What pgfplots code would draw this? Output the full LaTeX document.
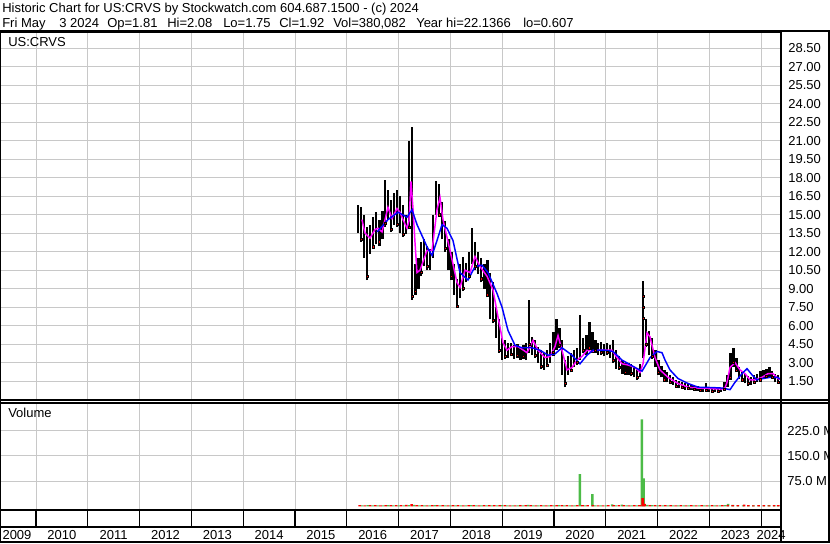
\documentclass[border=0pt]{standalone}
\usepackage{pgfplots}
\pgfplotsset{compat=1.18}
\usepackage{pgfplotstable}
\usepackage{fontspec}
\setmainfont{Liberation Sans}
\definecolor{gridc}{RGB}{200,200,200}
\definecolor{volgreen}{RGB}{76,187,71}
\definecolor{magline}{RGB}{255,0,255}
\newcommand{\chartfont}{\fontsize{9.75}{11}\selectfont}

\pgfplotstableread{
x lo hi
2016.216 13.5 15.8
2016.274 12.8 15.6
2016.332 11.5 15.0
2016.390 9.7 14.0
2016.448 11.8 14.2
2016.506 12.2 14.8
2016.564 12.6 15.2
2016.622 12.5 14.6
2016.680 13.0 15.3
2016.737 14.0 17.8
2016.795 14.6 17.0
2016.853 13.6 16.2
2016.911 14.2 16.8
2016.969 14.0 17.0
2017.027 13.5 16.5
2017.085 13.2 15.8
2017.143 13.4 15.0
2017.201 13.8 21.0
2017.259 8.1 22.1
2017.317 8.5 11.0
2017.375 9.0 11.5
2017.432 10.0 12.8
2017.490 10.8 13.0
2017.548 10.5 12.5
2017.606 10.5 12.2
2017.664 11.5 15.0
2017.722 15.0 17.7
2017.780 14.8 17.5
2017.838 13.0 16.0
2017.896 12.0 14.5
2017.954 10.5 13.0
2018.012 9.7 12.0
2018.069 8.5 11.0
2018.127 7.4 9.8
2018.185 8.2 11.0
2018.243 8.8 11.6
2018.301 9.5 11.1
2018.359 9.8 12.0
2018.417 11.0 13.9
2018.475 10.5 12.8
2018.533 10.2 12.0
2018.591 9.5 11.5
2018.649 9.0 11.0
2018.707 8.3 11.3
2018.764 6.5 10.3
2018.822 6.2 9.5
2018.880 5.0 7.5
2018.938 3.8 6.5
2018.996 3.2 5.0
2019.054 3.3 4.8
2019.112 3.4 4.6
2019.170 3.5 4.6
2019.228 3.3 4.4
2019.286 3.4 4.5
2019.344 3.2 4.3
2019.402 3.3 4.4
2019.459 3.2 4.6
2019.517 3.8 8.1
2019.575 3.6 5.1
2019.633 3.4 4.8
2019.691 3.0 4.3
2019.749 2.5 4.0
2019.807 2.4 3.8
2019.865 2.6 4.0
2019.923 3.0 4.6
2019.981 3.5 5.5
2020.039 4.0 6.5
2020.097 4.2 5.8
2020.154 2.0 4.8
2020.212 1.0 3.2
2020.270 2.0 3.5
2020.328 2.2 3.8
2020.386 2.6 4.0
2020.444 2.8 4.2
2020.502 3.2 6.9
2020.560 3.8 5.0
2020.618 3.6 5.2
2020.676 4.0 6.3
2020.734 3.8 5.5
2020.792 3.8 4.8
2020.849 3.6 4.6
2020.907 3.6 4.7
2020.965 3.5 4.5
2021.023 3.6 4.6
2021.081 3.4 4.4
2021.139 3.0 4.8
2021.197 2.5 4.0
2021.255 2.4 3.5
2021.313 2.1 3.2
2021.371 2.0 3.0
2021.429 2.0 3.0
2021.486 1.9 2.9
2021.544 1.8 2.6
2021.602 1.6 2.5
2021.660 1.8 2.9
2021.718 3.4 9.6
2021.776 4.3 6.5
2021.834 3.6 5.6
2021.892 3.3 5.0
2021.950 2.6 4.0
2022.008 2.0 3.2
2022.066 1.8 2.7
2022.124 1.5 2.4
2022.181 1.4 2.2
2022.239 1.3 2.0
2022.297 1.2 1.8
2022.355 1.0 1.6
2022.413 0.9 1.5
2022.471 0.9 1.4
2022.529 0.8 1.3
2022.587 0.8 1.3
2022.645 0.75 1.2
2022.703 0.7 1.1
2022.761 0.7 1.1
2022.819 0.7 1.0
2022.876 0.65 1.0
2022.934 0.7 1.3
2022.992 0.65 1.0
2023.050 0.6 0.95
2023.108 0.6 0.95
2023.166 0.6 0.9
2023.224 0.61 0.95
2023.282 0.7 1.4
2023.340 1.0 2.0
2023.398 1.6 3.8
2023.456 2.6 4.2
2023.514 2.2 3.4
2023.571 1.7 2.6
2023.629 1.5 2.3
2023.687 1.3 2.1
2023.745 1.1 1.9
2023.803 1.2 1.8
2023.861 1.3 2.0
2023.919 1.4 2.1
2023.977 1.5 2.3
2024.035 1.7 2.4
2024.093 1.8 2.5
2024.151 1.8 2.6
2024.208 1.7 2.3
2024.266 1.4 2.1
2024.324 1.3 2.0
}\pricebars

\begin{document}
\begin{tikzpicture}
\path[use as bounding box] (0,0) rectangle (622.5pt,407.25pt);

% ---------------- price panel ----------------
\begin{axis}[
  at={(0pt,107.25pt)}, anchor=south west, scale only axis,
  width=585.75pt, height=276pt,
  xmin=2009.305, xmax=2024.382, ymin=-0.04, ymax=29.83,
  xtick={2010,2011,2012,2013,2014,2015,2016,2017,2018,2019,2020,2021,2022,2023,2024},
  xticklabels={},
  ytick={1.5,3,4.5,6,7.5,9,10.5,12,13.5,15,16.5,18,19.5,21,22.5,24,25.5,27,28.5},
  yticklabel pos=right,
  major tick length=0pt,
  xmajorgrids, ymajorgrids,
  grid style={gridc, line width=0.75pt},
  axis line style={black, line width=1.1pt},
  yticklabel style={font=\chartfont, anchor=west, xshift=2pt},
  /pgf/number format/fixed, /pgf/number format/fixed zerofill,
  /pgf/number format/precision=2, /pgf/number format/assume math mode=true,
]
\addplot[draw=none, mark=none, forget plot,
  error bars/.cd, y dir=plus, y explicit, error mark=none,
  error bar style={solid, draw=black, line width=2.2pt}]
  table[x=x, y=lo, y error expr=\thisrow{hi}-\thisrow{lo}] {\pricebars};
\addplot[only marks, mark=square*, mark size=0.8pt, mark options={draw=none, fill=red}] coordinates {
(2016.274,13.0)(2016.390,10.0)(2016.506,12.4)(2016.622,12.8)(2016.737,14.3)(2016.853,13.8)
(2016.969,14.2)(2017.085,13.4)(2017.201,14.0)(2017.259,8.4)(2017.317,8.8)(2017.432,10.3)
(2017.548,10.8)(2017.780,15.0)(2017.896,12.3)(2018.012,10.0)(2018.127,7.6)(2018.243,9.0)
(2018.359,10.0)(2018.475,10.8)(2018.591,9.8)(2018.707,8.5)(2018.822,6.4)(2018.938,4.0)
(2019.054,3.5)(2019.170,3.7)(2019.286,3.6)(2019.402,3.5)(2019.517,4.5)(2019.633,3.6)
(2019.749,2.7)(2019.865,2.8)(2019.981,3.8)(2020.097,4.4)(2020.212,1.3)(2020.328,2.4)
(2020.444,3.0)(2020.560,4.0)(2020.676,4.2)(2020.792,4.0)(2020.907,3.8)(2021.023,3.8)
(2021.139,3.2)(2021.255,2.6)(2021.371,2.2)(2021.486,2.1)(2021.602,1.8)(2021.718,8.4)
(2021.718,7.5)(2021.718,6.6)(2021.776,4.5)(2021.892,3.5)(2022.008,2.2)(2022.124,1.6)
(2022.239,1.4)(2022.355,1.1)(2022.471,1.0)(2022.587,0.9)(2022.703,0.8)(2022.819,0.75)
(2022.934,0.75)(2023.050,0.7)(2023.166,0.7)(2023.282,0.8)(2023.398,1.8)(2023.456,3.0)
(2023.514,2.4)(2023.629,1.6)(2023.745,1.3)(2023.861,1.4)(2023.977,1.6)(2024.093,1.9)
(2024.208,1.8)(2024.324,1.4)};
\addplot[magline, line width=1.1pt] coordinates {
(2016.293,14.6)(2016.351,13.5)(2016.448,13.1)(2016.544,13.8)(2016.602,13.9)(2016.680,13.6)
(2016.737,14.6)(2016.795,15.6)(2016.873,14.7)(2016.969,15.5)(2017.027,15.2)(2017.085,14.6)
(2017.162,13.9)(2017.201,14.5)(2017.239,17.7)(2017.278,15.5)(2017.317,12.7)(2017.355,10.3)
(2017.413,10.5)(2017.548,12.1)(2017.645,12.1)(2017.741,15.4)(2017.799,16.4)(2017.857,14.6)
(2017.992,12.1)(2018.127,9.5)(2018.185,9.1)(2018.282,10.5)(2018.378,10.3)(2018.475,11.6)
(2018.571,10.8)(2018.707,10.0)(2018.822,8.9)(2018.919,6.7)(2019.015,4.6)(2019.093,4.0)
(2019.189,4.3)(2019.305,4.3)(2019.479,3.8)(2019.595,4.8)(2019.691,4.0)(2019.826,3.4)
(2019.923,3.5)(2020.019,4.3)(2020.077,5.2)(2020.154,4.0)(2020.251,2.4)(2020.347,2.6)
(2020.444,3.2)(2020.541,3.5)(2020.637,4.0)(2020.734,3.9)(2020.849,4.0)(2021.120,4.0)
(2021.216,3.4)(2021.313,2.9)(2021.429,2.8)(2021.564,2.6)(2021.660,2.2)(2021.718,2.9)
(2021.795,5.4)(2021.853,5.1)(2021.950,3.4)(2022.046,2.4)(2022.201,1.8)(2022.394,1.3)
(2022.587,1.0)(2022.857,0.9)(2023.243,0.85)(2023.301,0.95)(2023.340,1.4)(2023.398,2.6)
(2023.494,3.0)(2023.591,2.4)(2023.687,2.1)(2023.784,1.6)(2023.880,1.6)(2024.015,1.8)
(2024.131,2.1)(2024.228,2.1)(2024.324,1.7)(2024.382,1.6)};
\addplot[blue, line width=1.1pt] coordinates {
(2016.583,13.6)(2016.795,14.6)(2016.988,15.2)(2017.162,14.8)(2017.259,15.4)(2017.355,14.2)
(2017.548,12.4)(2017.645,11.7)(2017.741,12.9)(2017.838,14.2)(2017.934,13.9)(2018.050,12.9)
(2018.185,10.3)(2018.340,9.7)(2018.475,10.8)(2018.610,10.9)(2018.726,10.3)(2018.900,8.6)
(2018.996,7.5)(2019.112,5.6)(2019.247,4.4)(2019.382,4.2)(2019.575,4.2)(2019.730,4.0)
(2019.884,3.6)(2020.019,3.7)(2020.154,4.2)(2020.347,3.6)(2020.502,2.9)(2020.637,3.6)
(2020.753,4.0)(2020.985,4.0)(2021.139,3.9)(2021.313,3.2)(2021.564,2.6)(2021.699,2.3)
(2021.853,3.4)(2021.988,3.9)(2022.085,3.8)(2022.143,3.2)(2022.239,2.4)(2022.394,1.7)
(2022.587,1.3)(2022.780,1.0)(2023.050,0.97)(2023.243,0.93)(2023.398,0.8)(2023.494,1.4)
(2023.629,2.1)(2023.726,2.5)(2023.822,2.0)(2023.919,1.6)(2024.035,1.7)(2024.170,1.8)
(2024.305,1.8)(2024.382,1.65)};
\end{axis}

% ---------------- volume panel ----------------
\begin{axis}[
  at={(0pt,24.75pt)}, anchor=south west, scale only axis,
  width=585.75pt, height=80.25pt,
  xmin=2009.305, xmax=2024.382, ymin=-10.4, ymax=306.8,
  xtick={2010,2011,2012,2013,2014,2015,2016,2017,2018,2019,2020,2021,2022,2023,2024},
  xticklabels={},
  ytick={75,150,225}, yticklabels={75.0 M,150.0 M,225.0 M},
  yticklabel pos=right,
  major tick length=0pt,
  xmajorgrids, ymajorgrids,
  grid style={gridc, line width=0.75pt},
  axis line style={black, line width=1.1pt},
  yticklabel style={font=\chartfont, anchor=west, xshift=1.2pt},
]
\addplot[ybar, bar shift=0pt, bar width=1.9pt, fill=volgreen, draw=none] coordinates {
(2016.30,3.5)(2016.40,4.0)(2016.50,3.2)(2016.60,3.6)(2016.70,3.4)(2016.80,4.2)(2016.90,3.5)
(2017.00,3.6)(2017.10,3.4)(2017.20,4.0)(2017.30,5.0)(2017.40,3.6)(2017.50,3.4)(2017.60,3.5)
(2017.70,3.7)(2017.80,3.3)(2017.90,3.5)(2018.00,3.4)(2018.10,3.6)(2018.20,3.3)(2018.30,3.5)
(2018.40,3.7)(2018.50,3.4)(2018.60,3.3)(2018.70,3.5)(2018.80,3.6)(2018.90,3.4)(2019.00,3.7)
(2019.10,3.5)(2019.20,3.3)(2019.30,3.4)(2019.40,3.6)(2019.50,4.5)(2019.60,3.5)(2019.70,3.3)
(2019.80,3.4)(2019.90,3.6)(2020.00,3.5)(2020.10,3.7)(2020.20,3.5)(2020.30,3.4)(2020.40,3.6)
(2020.50,96)(2020.60,3.5)(2020.74,37)(2020.80,3.4)(2020.90,3.5)(2021.00,3.6)(2021.12,6.5)
(2021.20,3.5)(2021.31,5.5)(2021.40,3.4)(2021.50,3.6)(2021.60,3.5)(2021.697,258)(2021.728,83)
(2021.80,5.0)(2021.90,3.8)(2022.00,3.5)(2022.10,3.4)(2022.20,3.6)(2022.30,3.3)(2022.40,3.5)
(2022.50,3.4)(2022.60,3.3)(2022.70,3.5)(2022.80,3.4)(2022.90,3.3)(2023.00,3.5)(2023.10,3.4)
(2023.20,3.6)(2023.30,4.0)(2023.36,7.5)(2023.45,4.5)(2023.55,3.8)(2023.65,3.6)(2023.75,3.5)
(2023.85,3.4)(2023.95,3.6)(2024.05,3.5)(2024.15,3.7)(2024.25,3.5)(2024.32,3.6)};
\addplot[ybar, bar shift=0pt, bar width=1.9pt, fill=red, draw=none] coordinates {
(2016.25,4.0)(2016.35,3.6)(2016.45,4.2)(2016.55,3.8)(2016.65,3.5)(2016.75,4.4)(2016.85,3.9)
(2016.95,3.7)(2017.05,4.1)(2017.15,4.6)(2017.25,7.0)(2017.35,4.2)(2017.45,3.8)(2017.55,3.6)
(2017.65,4.0)(2017.75,3.7)(2017.85,3.9)(2017.95,3.5)(2018.05,3.8)(2018.15,4.0)(2018.25,3.6)
(2018.35,3.7)(2018.45,3.9)(2018.55,3.5)(2018.65,3.8)(2018.75,4.1)(2018.85,3.7)(2018.95,4.2)
(2019.05,3.9)(2019.15,3.6)(2019.25,3.5)(2019.35,3.8)(2019.45,3.7)(2019.55,4.0)(2019.65,3.6)
(2019.75,3.8)(2019.85,3.5)(2019.95,3.9)(2020.05,3.7)(2020.15,4.2)(2020.25,3.8)(2020.35,3.6)
(2020.45,3.9)(2020.55,4.0)(2020.65,3.7)(2020.75,3.8)(2020.85,3.5)(2020.95,3.6)(2021.05,3.8)
(2021.15,4.0)(2021.25,3.7)(2021.35,3.9)(2021.45,3.6)(2021.55,3.8)(2021.65,4.2)(2021.713,25)
(2021.75,8.0)(2021.85,4.4)(2021.95,4.0)(2022.05,3.8)(2022.15,3.7)(2022.25,3.9)(2022.35,3.6)
(2022.45,3.8)(2022.55,3.5)(2022.65,3.7)(2022.75,3.6)(2022.85,3.8)(2022.95,3.5)(2023.05,3.7)
(2023.15,3.6)(2023.25,3.8)(2023.35,4.0)(2023.45,4.2)(2023.55,3.8)(2023.67,5.5)(2023.75,3.7)
(2023.85,3.6)(2023.95,3.8)(2024.05,3.7)(2024.15,3.6)(2024.25,3.8)(2024.33,3.7)};
\end{axis}

% ---------------- year row ----------------
\begin{axis}[
  at={(0pt,12pt)}, anchor=south west, scale only axis,
  width=585.75pt, height=12.75pt,
  xmin=2009.305, xmax=2024.382, ymin=0, ymax=1,
  xtick={2010,2011,2012,2013,2014,2015,2016,2017,2018,2019,2020,2021,2022,2023,2024},
  xticklabels={}, ytick=\empty,
  major tick length=0pt,
  xmajorgrids, grid style={black, line width=0.9pt},
  axis line style={black, line width=0.9pt},
  extra x ticks={2009.633,2010.5,2011.5,2012.5,2013.5,2014.5,2015.5,2016.5,2017.5,2018.5,2019.5,2020.5,2021.5,2022.5,2023.5,2024.19},
  extra x tick labels={2009,2010,2011,2012,2013,2014,2015,2016,2017,2018,2019,2020,2021,2022,2023,2024},
  extra x tick style={grid=none, xticklabel style={font=\chartfont, yshift=1pt}},
]
\end{axis}

% ---------------- frame and texts ----------------
\begin{scope}[x=0.75pt, y=-0.75pt, yshift=407.25pt]
\draw[line width=2pt] (0,31) -- (830,31);
\draw[line width=1.5pt] (781,31) -- (781,543);
\draw[line width=1pt] (829,31) -- (829,543);
\draw[line width=1pt] (0,31) -- (0,543);
\draw[line width=1.1pt] (781,400) -- (830,400);
\draw[line width=1.1pt] (781,403) -- (830,403);
\draw[line width=1.5pt] (0,510) -- (781,510);
\draw[line width=2pt] (0,542) -- (830,542);
\node[anchor=base west, inner sep=0, font=\chartfont] at (2,12.5) {Historic Chart for US:CRVS by Stockwatch.com 604.687.1500 - (c) 2024};
\begin{scope}[every node/.style={anchor=base west, inner sep=0, font=\chartfont}]
\node at (2,28) {Fri May};
\node at (59,28) {3 2024};
\node at (107,28) {Op=1.81};
\node at (167,28) {Hi=2.08};
\node at (223,28) {Lo=1.75};
\node at (279,28) {Cl=1.92};
\node at (333,28) {Vol=380,082};
\node at (416,28) {Year hi=22.1366};
\node at (523,28) {lo=0.607};
\end{scope}
\node[anchor=west, inner sep=0, font=\chartfont] at (8,42) {US:CRVS};
\node[anchor=west, inner sep=0, font=\chartfont] at (8,413) {Volume};
\end{scope}
\end{tikzpicture}
\end{document}
